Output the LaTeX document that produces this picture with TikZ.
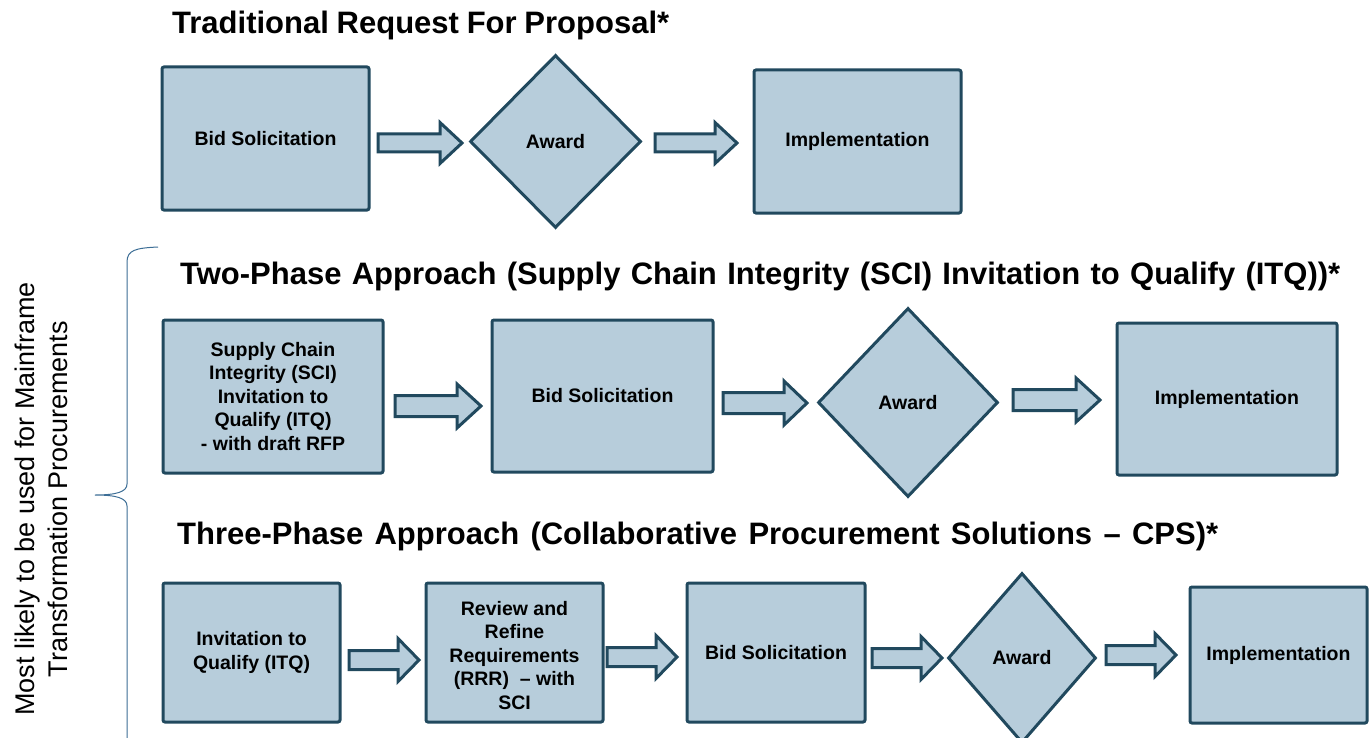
\documentclass[tikz,border=0pt]{standalone}
\usepackage{fontspec}
\setmainfont{Liberation Sans}
\usetikzlibrary{shapes.geometric,calc}
\definecolor{boxfill}{RGB}{183,205,219}
\definecolor{bord}{RGB}{33,73,94}
\definecolor{bracec}{RGB}{60,110,150}
\tikzset{
  box/.style={draw=bord, fill=boxfill, line width=3pt, rounded corners=2pt, inner sep=0pt,
    align=center, font=\fontsize{19.5}{23.5}\selectfont\bfseries},
  dia/.style={diamond, draw=bord, fill=boxfill, line width=3pt, inner sep=0pt,
    font=\fontsize{19.5}{23.5}\selectfont\bfseries},
  blk/.style={draw=bord, fill=boxfill, line width=3pt, line join=miter},
  ttl/.style={anchor=base west, inner sep=0pt, font=\fontsize{31}{36}\selectfont\bfseries},
}
\newcommand\blockarr[5]{%
  \draw[blk] let \p1=(#1), \p2=(#2) in
    (\x1,{\y1+#3}) -- ({\x2-#5},{\y1+#3}) -- ({\x2-#5},{\y1+#4}) -- (\x2,\y1)
    -- ({\x2-#5},{\y1-#4}) -- ({\x2-#5},{\y1-#3}) -- (\x1,{\y1-#3}) -- cycle;}
\begin{document}
\begin{tikzpicture}[x=1pt,y=-1pt]
\useasboundingbox (0,0) rectangle (1372,738);
\fill[white] (0,0) rectangle (1372,738);

% titles
\node[ttl] (t1) at (172,34) {\makebox[497pt][s]{Traditional Request For Proposal*}};
\node[ttl] (t2) at (180,284) {\makebox[1160pt][s]{Two-Phase Approach (Supply Chain Integrity (SCI) Invitation to Qualify (ITQ))*}};
\node[ttl] (t3) at (177,544) {\makebox[1041pt][s]{Three-Phase Approach (Collaborative Procurement Solutions \textendash{} CPS)*}};

% side label and brace
\node[rotate=90, align=center, inner sep=0pt, font=\fontsize{27}{33}\selectfont] (side) at (41,499)
  {Most likely to be used for Mainframe\\Transformation Procurements};
\draw[bracec, line width=1pt] (158,247) .. controls (136,248) and (127,250) .. (127,262)
  -- (127,484) .. controls (127,492) and (116,495) .. (95,495)
  .. controls (116,495) and (127,498) .. (127,506) -- (127,745);

% row 1
\node[box, minimum width=207, minimum height=143] (b1) at (265.5,138.5) {Bid Solicitation};
\node[dia, minimum width=171, minimum height=173] (d1) at (555.5,141.5) {Award};
\node[box, minimum width=207, minimum height=143] (i1) at (857.5,141.5) {Implementation};
\coordinate (a1s) at (378,143); \coordinate (a1e) at (462,143);
\coordinate (a2s) at (655,143); \coordinate (a2e) at (737,143);
\blockarr{a1s}{a1e}{9pt}{20.5pt}{22pt}
\blockarr{a2s}{a2e}{9pt}{20.5pt}{22pt}

% row 2
\node[box, minimum width=220, minimum height=153] (s2) at (273,396.5)
  {Supply Chain\\Integrity (SCI)\\Invitation to\\Qualify (ITQ)\\- with draft RFP};
\node[box, minimum width=221, minimum height=152] (b2) at (602.5,396) {Bid Solicitation};
\node[dia, minimum width=180, minimum height=189] (d2) at (908,402.5) {Award};
\node[box, minimum width=220, minimum height=152] (i2) at (1227,399) {Implementation};
\coordinate (a3s) at (395,406); \coordinate (a3e) at (481,406);
\coordinate (a4s) at (723,403); \coordinate (a4e) at (807,403);
\coordinate (a5s) at (1013,400); \coordinate (a5e) at (1100,400);
\blockarr{a3s}{a3e}{10.5pt}{22pt}{24pt}
\blockarr{a4s}{a4e}{10.5pt}{22pt}{23pt}
\blockarr{a5s}{a5e}{10.5pt}{22pt}{24pt}

% row 3
\node[box, minimum width=177, minimum height=139] (q3) at (251.5,652.5) {Invitation to\\Qualify (ITQ)};
\node[box, minimum width=177, minimum height=139] (r3) at (514.5,652.5)
  {\raisebox{-5pt}[\height][\depth]{\begin{tabular}{@{}c@{}}Review and\\Refine\\Requirements\\(RRR)\ \ \textendash{} with\\SCI\end{tabular}}};
\node[box, minimum width=178, minimum height=139] (b3) at (776,652.5) {Bid Solicitation};
\node[dia, minimum width=148, minimum height=170] (d3) at (1022,658) {Award};
\node[box, minimum width=177, minimum height=136] (i3) at (1278.5,655) {Implementation};
\coordinate (a6s) at (349,660); \coordinate (a6e) at (419,660);
\coordinate (a7s) at (607,657); \coordinate (a7e) at (677,657);
\coordinate (a8s) at (872,658); \coordinate (a8e) at (942,658);
\coordinate (a9s) at (1106,655); \coordinate (a9e) at (1176,655);
\blockarr{a6s}{a6e}{9.5pt}{21.5pt}{21pt}
\blockarr{a7s}{a7e}{9.5pt}{21.5pt}{21pt}
\blockarr{a8s}{a8e}{9.5pt}{21.5pt}{21pt}
\blockarr{a9s}{a9e}{9.5pt}{21.5pt}{21pt}
\end{tikzpicture}
\end{document}
